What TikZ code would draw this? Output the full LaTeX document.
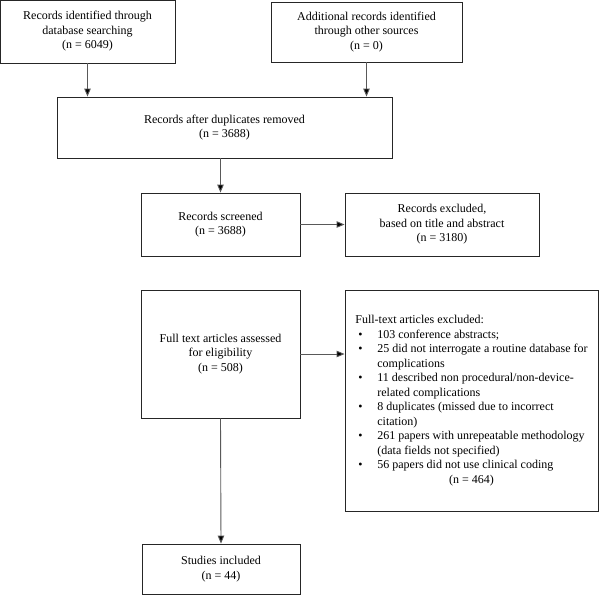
\documentclass[tikz,border=0pt]{standalone}
\usepackage{fontspec}
\setmainfont{Liberation Serif}
\usetikzlibrary{arrows.meta}
\begin{document}
\begin{tikzpicture}[x=1pt,y=-1pt,
  every node/.style={font=\fontsize{12}{14.5}\selectfont},
  box/.style={draw=black!85,line width=0.9pt,rectangle,inner sep=0pt,align=center},
  arr/.style={draw=black!65,line width=0.9pt,-{Triangle[length=8pt,width=6.5pt,fill=black]}}]
\useasboundingbox (0,0) rectangle (600,595);
\node[box,minimum width=175pt,minimum height=63pt] (A) at (87.5,31.5)
  {Records identified through\\database searching\\(n = 6049)};
\node[box,minimum width=191pt,minimum height=60pt] (B) at (366.5,32)
  {Additional records identified\\through other sources\\(n = 0)};
\node[box,minimum width=335pt,minimum height=61pt] (C) at (224.5,127.5)
  {Records after duplicates removed\\(n = 3688)};
\node[box,minimum width=159pt,minimum height=63pt] (D) at (220.5,224.5)
  {Records screened\\(n = 3688)};
\node[box,minimum width=194pt,minimum height=63pt] (E) at (442,224.5)
  {Records excluded,\\based on title and abstract\\(n = 3180)};
\node[box,minimum width=159pt,minimum height=128pt] (F) at (220.5,354)
  {Full text articles assessed\\for eligibility\\(n = 508)};
\node[box,minimum width=253pt,minimum height=221pt] (G) at (471.5,400.5)
  {\begin{tabular}{@{}p{22pt}@{}l@{}}
   \multicolumn{2}{@{}l@{}}{Full-text articles excluded:}\\
   \hspace{3pt}\textbullet & 103 conference abstracts;\\
   \hspace{3pt}\textbullet & 25 did not interrogate a routine database for\\
   & complications\\
   \hspace{3pt}\textbullet & 11 described non procedural/non-device-\\
   & related complications\\
   \hspace{3pt}\textbullet & 8 duplicates (missed due to incorrect\\
   & citation)\\
   \hspace{3pt}\textbullet & 261 papers with unrepeatable methodology\\
   & (data fields not specified)\\
   \hspace{3pt}\textbullet & 56 papers did not use clinical coding\\
   \multicolumn{2}{@{}c@{}}{(n = 464)}
   \end{tabular}};
\node[box,minimum width=158pt,minimum height=50pt] (H) at (221,569)
  {Studies included\\(n = 44)};
\draw[arr] (A.south) -- (A.south |- C.north);
\draw[arr] (B.south) -- (B.south |- C.north);
\draw[arr] (C.south -| D.north) -- (D.north);
\draw[arr] (D.east) -- (D.east -| E.west);
\draw[arr] (F.east) -- (F.east -| G.west);
\draw[arr] (F.south) -- (H.north);
\end{tikzpicture}
\end{document}
